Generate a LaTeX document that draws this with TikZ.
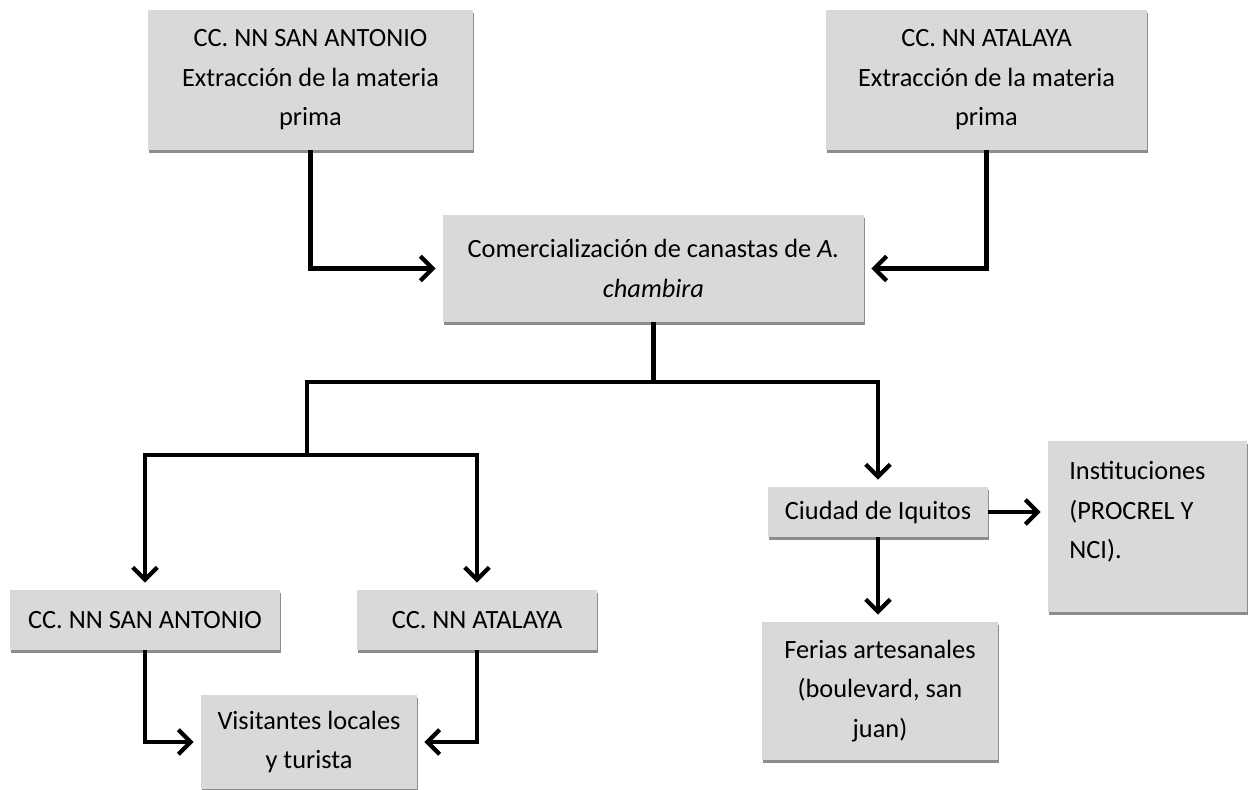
\documentclass[tikz,border=0pt]{standalone}
\usepackage{fontspec}
\setmainfont{Carlito}
\usepackage{tikz}
\usetikzlibrary{arrows.meta,shadows}

\definecolor{boxgray}{HTML}{D9D9D9}

\begin{document}
\begin{tikzpicture}[x=0.02cm,y=-0.02cm,
  box/.style={fill=boxgray, draw=none, align=center, inner sep=0pt,
    font=\fontsize{15}{22.5}\selectfont,
    drop shadow={shadow xshift=0.6pt, shadow yshift=-1.8pt, fill=black!45, opacity=1}},
  txt/.style={align=left, inner sep=0pt, font=\fontsize{15}{22.5}\selectfont},
  arr/.style={line width=2.4pt, -{Straight Barb[length=7pt,width=14pt,line width=2.4pt]}, shorten >=4pt},
  ln/.style={line width=2.4pt}]
\useasboundingbox (0,0) rectangle (1249,789);
% origen
\node[box, minimum width=6.5cm, minimum height=2.8cm] (sanant) at (310.5,80)
  {CC. NN SAN ANTONIO\\Extracción de la materia\\prima};
\node[box, minimum width=6.42cm, minimum height=2.8cm] (atalaya) at (986.5,80)
  {CC. NN ATALAYA\\Extracción de la materia\\prima};
\node[box, minimum width=8.42cm, minimum height=2.14cm] (comerc) at (653.5,268.5)
  {Comercialización de canastas de \textit{A.}\\\textit{chambira}};
% destinos
\node[box, minimum width=4.4cm, minimum height=1.0cm] (iquitos) at (878,512)
  {Ciudad de Iquitos};
\node[box, minimum width=3.98cm, minimum height=3.42cm] (inst) at (1147.5,526.5) {};
\node[txt, anchor=west] (insttxt) at (1069,512) {Instituciones\\(PROCREL Y\\NCI).};
\node[box, minimum width=4.72cm, minimum height=2.76cm] (ferias) at (880,691)
  {Ferias artesanales\\(boulevard, san\\juan)};
\node[box, minimum width=5.4cm, minimum height=1.2cm] (sanantB) at (145,620)
  {CC. NN SAN ANTONIO};
\node[box, minimum width=4.8cm, minimum height=1.2cm] (atalayaB) at (477,620)
  {CC. NN ATALAYA};
\node[box, minimum width=4.32cm, minimum height=1.88cm] (visit) at (309,742)
  {Visitantes locales\\y turista};
\coordinate (split) at (653.5,382);
\coordinate (lsplit) at (307,455);
% conectores
\draw[arr] (sanant.south) |- (comerc.west);
\draw[arr] (atalaya.south) |- (comerc.east);
\draw[ln] (comerc.south) -- (split);
\draw[arr] (split) -| (iquitos.north);
\draw[ln] (split) -| (lsplit);
\draw[arr] (lsplit) -| (sanantB.north);
\draw[arr] (lsplit) -| (atalayaB.north);
\draw[arr] (iquitos.east) -- (inst.west |- iquitos.east);
\draw[arr] (iquitos.south) -- (iquitos.south |- ferias.north);
\draw[arr] (sanantB.south) |- (visit.west);
\draw[arr] (atalayaB.south) |- (visit.east);
\end{tikzpicture}
\end{document}
